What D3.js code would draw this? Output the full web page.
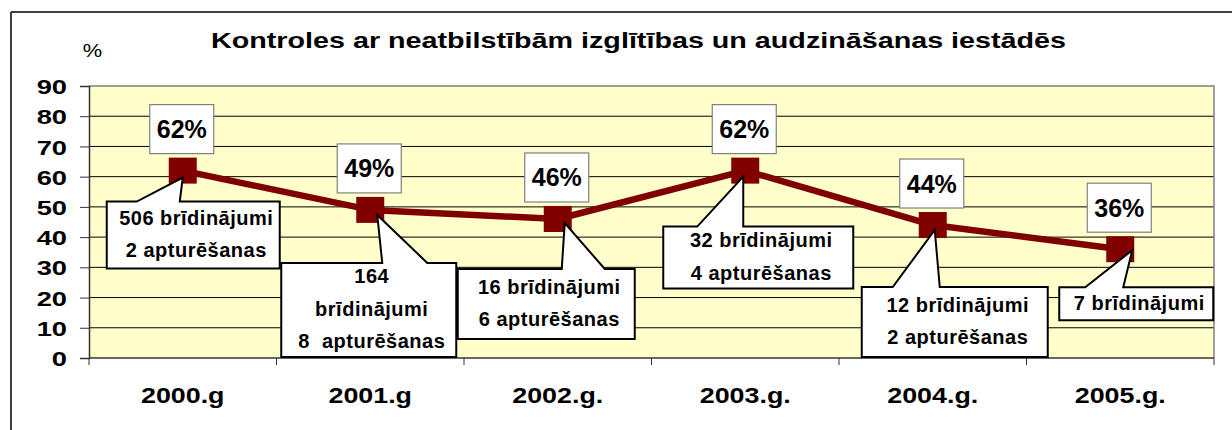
<!DOCTYPE html>
<html>
<head>
<meta charset="utf-8">
<script src="https://cdn.jsdelivr.net/npm/d3@7"></script>
<style>
  html, body { margin: 0; padding: 0; background: #fff; }
  svg { display: block; }
  text { font-family: "Liberation Sans", Arial, sans-serif; fill: #000; }
</style>
</head>
<body>
<svg id="chart" width="1232" height="430"></svg>
<script>
// ---------------- data ----------------
const categories = ["2000.g", "2001.g", "2002.g.", "2003.g.", "2004.g.", "2005.g."];
const values = [62, 49, 46, 62, 44, 36];
const valueLabels = ["62%", "49%", "46%", "62%", "44%", "36%"];
const calloutTexts = [
  ["506 brīdinājumi", "2 apturēšanas"],
  ["164", "brīdinājumi", "8  apturēšanas"],
  ["16 brīdinājumi", "6 apturēšanas"],
  ["32 brīdinājumi", "4 apturēšanas"],
  ["12 brīdinājumi", "2 apturēšanas"],
  ["7 brīdinājumi"]
];
const yTicks = [0, 10, 20, 30, 40, 50, 60, 70, 80, 90];
const titleText = "Kontroles ar neatbilstībām izglītības un audzināšanas iestādēs";
const yUnit = "%";

// ---------------- layout (offsets relative to each marker) ----------------
const calloutLayout = [
  { box: [-76, 31, 97, 98],   base: [-46, -3], tip: [0, 7] },
  { box: [-89, 53, 86, 147],  base: [12, 57],  tip: [7, 5] },
  { box: [-100, 50, 77, 120], base: [4, 47],   tip: [7, 4] },
  { box: [-82, 56, 108, 118], base: [-48, -2], tip: [-2, 6] },
  { box: [-71, 62, 115, 132], base: [-40, 7],  tip: [2, 5] },
  { box: [-61, 38, 93, 71],   base: [-35, 3],  tip: [12, 1] }
];

const svg = d3.select("#chart");
const plot = { left: 89, right: 1214, top: 86, bottom: 358 };

const x = d3.scaleBand().domain(categories).range([plot.left, plot.right]).padding(0);
const y = d3.scaleLinear().domain([0, 90]).range([plot.bottom, plot.top]);

// outer frame (top + left visible)
svg.append("line").attr("x1", 11).attr("x2", 1232).attr("y1", 12).attr("y2", 12)
  .attr("stroke", "#404040").attr("stroke-width", 2);
svg.append("line").attr("x1", 11).attr("x2", 11).attr("y1", 12).attr("y2", 430)
  .attr("stroke", "#404040").attr("stroke-width", 2);

// title
svg.append("text")
  .attr("x", 211).attr("y", 48)
  .attr("textLength", 855).attr("lengthAdjust", "spacingAndGlyphs")
  .style("font-size", "22px").style("font-weight", "bold")
  .text(titleText);

// unit label
svg.append("text")
  .attr("transform", "translate(92.5,57) scale(1.15,1)")
  .attr("text-anchor", "middle")
  .style("font-size", "19px")
  .text(yUnit);

// plot background
svg.append("rect")
  .attr("x", plot.left).attr("y", plot.top)
  .attr("width", plot.right - plot.left).attr("height", plot.bottom - plot.top)
  .attr("fill", "#FFFFCC");

// gridlines
svg.append("g").selectAll("line")
  .data(yTicks.filter(d => d > 0 && d < 90))
  .join("line")
  .attr("x1", plot.left).attr("x2", plot.right)
  .attr("y1", d => y(d)).attr("y2", d => y(d))
  .attr("stroke", "#000").attr("stroke-width", 1);

// plot border top/right (gray)
svg.append("path")
  .attr("d", `M${plot.left},${plot.top}H${plot.right}V${plot.bottom}`)
  .attr("fill", "none").attr("stroke", "#808080").attr("stroke-width", 1.5);

// y axis
const yAxis = svg.append("g")
  .attr("transform", `translate(${plot.left},0)`)
  .call(d3.axisLeft(y).tickValues(yTicks).tickSize(9).tickFormat(d3.format("d")));
yAxis.select(".domain").attr("stroke", "#333").attr("stroke-width", 1.5);
yAxis.selectAll(".tick line").attr("stroke", "#333");
yAxis.selectAll(".tick text")
  .attr("x", 0).attr("dy", "0.36em")
  .attr("transform", "translate(-22,0) scale(1.3,1)")
  .attr("text-anchor", "end")
  .style("font-family", "'Liberation Sans', Arial, sans-serif")
  .style("font-size", "21px").style("font-weight", "bold").attr("fill", "#000");

// x axis (ticks at band boundaries)
const xAxisG = svg.append("g").attr("transform", `translate(0,${plot.bottom})`);
xAxisG.append("line").attr("x1", plot.left).attr("x2", plot.right).attr("y1", 0).attr("y2", 0)
  .attr("stroke", "#333").attr("stroke-width", 1.5);
const boundaries = categories.map(c => x(c)).concat([x(categories[categories.length - 1]) + x.bandwidth()]);
xAxisG.selectAll("line.tick").data(boundaries).join("line")
  .attr("class", "tick")
  .attr("x1", d => d).attr("x2", d => d).attr("y1", 0).attr("y2", 7)
  .attr("stroke", "#333");
xAxisG.selectAll("text").data(categories).join("text")
  .attr("transform", d => `translate(${x(d) + x.bandwidth() / 2},45) scale(1.22,1)`)
  .attr("text-anchor", "middle")
  .style("font-size", "22px").style("font-weight", "bold")
  .text(d => d);

// line
const cx = i => x(categories[i]) + x.bandwidth() / 2;
const line = d3.line().x((d, i) => cx(i)).y(d => y(d));
svg.append("path").datum(values)
  .attr("d", line)
  .attr("fill", "none").attr("stroke", "#800000").attr("stroke-width", 6.5)
  .attr("stroke-linejoin", "round");

// markers
svg.append("g").selectAll("rect").data(values).join("rect")
  .attr("x", (d, i) => cx(i) - 14).attr("y", d => y(d) - 13)
  .attr("width", 28).attr("height", 26)
  .attr("fill", "#800000");

// value labels
const vl = svg.append("g").selectAll("g").data(values).join("g")
  .attr("transform", (d, i) => `translate(${cx(i) - 1},${y(d) - 17})`);
vl.append("rect")
  .attr("x", -32).attr("y", -49).attr("width", 64).attr("height", 49)
  .attr("fill", "#fff").attr("stroke", "#808080").attr("stroke-width", 1.2);
vl.append("text")
  .attr("x", 0).attr("y", -24.5 + 9)
  .attr("text-anchor", "middle")
  .style("font-size", "25px").style("font-weight", "bold")
  .text((d, i) => valueLabels[i]);

// callouts
const co = svg.append("g").selectAll("g").data(values).join("g")
  .attr("transform", (d, i) => `translate(${cx(i)},${y(d)})`);
co.append("path")
  .attr("d", (d, i) => {
    const L = calloutLayout[i];
    const [x0, y0, x1, y1] = L.box;
    return `M${x0},${y0}H${L.base[0]}L${L.tip[0]},${L.tip[1]}L${L.base[1]},${y0}H${x1}V${y1}H${x0}Z`;
  })
  .attr("fill", "#fff").attr("stroke", "#000").attr("stroke-width", 2)
  .attr("stroke-linejoin", "miter");
co.each(function (d, i) {
  const L = calloutLayout[i];
  const [x0, y0, x1, y1] = L.box;
  const lines = calloutTexts[i];
  const lh = 32.5;
  const midY = (y0 + y1) / 2 - 1;
  const startY = midY - (lines.length - 1) * lh / 2;
  d3.select(this).selectAll("text").data(lines).join("text")
    .attr("x", (x0 + x1) / 2 + 3)
    .attr("y", (t, k) => startY + k * lh + 7)
    .attr("text-anchor", "middle")
    .style("font-size", "20px").style("font-weight", "bold")
    .style("letter-spacing", "0.5px")
    .style("white-space", "pre")
    .text(t => t);
});
</script>
</body>
</html>
